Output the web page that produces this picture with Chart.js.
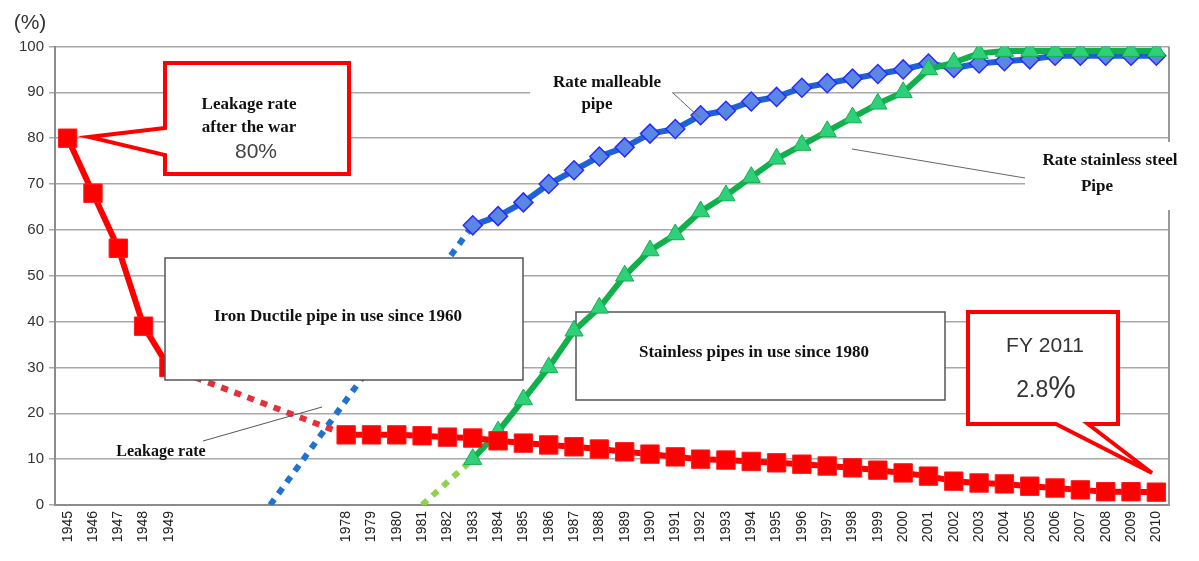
<!DOCTYPE html>
<html><head><meta charset="utf-8">
<script src="https://cdn.jsdelivr.net/npm/chart.js@4.4.1/dist/chart.umd.min.js"></script>
<style>html,body{margin:0;padding:0;background:#fff}#wrap{width:1199px;height:561px;position:relative}</style>
</head><body><div id="wrap"><canvas id="c" width="1199" height="561"></canvas></div>
<script>
// Category labels (blank slots represent the omitted 1950-1977 years)
const categories = ['1945','1946','1947','1948','1949','','','','','','',
  '1978','1979','1980','1981','1982','1983','1984','1985','1986','1987','1988','1989','1990',
  '1991','1992','1993','1994','1995','1996','1997','1998','1999','2000','2001','2002','2003',
  '2004','2005','2006','2007','2008','2009','2010'];

// Leakage rate (%)
const leakageRate = [80,68,56,39,30, null,null,null,null,null,null,
  15.3,15.3,15.3,15.1,14.8,14.6,14.0,13.5,13.1,12.7,12.2,11.6,11.1,10.5,10.0,9.8,
  9.5,9.2,8.9,8.5,8.1,7.6,7.0,6.3,5.2,4.8,4.6,4.1,3.7,3.3,2.9,2.9,2.8];

// Rate of malleable (ductile iron) pipe (%)
const malleableRate = [null,null,null,null,null,null,null,null, 0, null,null,null,null,null,null,null,
  61,63,66,70,73,76,78,81,82,85,86,88,89,91,92,93,94,95,96.3,95.3,96.3,96.8,97.2,98,98,98,98,98];

// Rate of stainless steel pipe (%)
const stainlessRate = [null,null,null,null,null,null,null,null,null,null,null,null,null,null, 0, null,
  10,16,23,30,38,43,50,55.5,59,64,67.5,71.5,75.5,78.5,81.5,84.5,87.5,90,95,96.5,98.5,99,99,99,99,99,99,99];

const yTicks = {min: 0, max: 100, step: 10};

const SERIF = '"Liberation Serif","Times New Roman",serif';
const SANS = '"Liberation Sans",Arial,sans-serif';

const isGap = ctx => ctx.p0.skip || ctx.p1.skip;

function poly(ctx, pts, stroke, lw) {
  ctx.beginPath();
  pts.forEach((p, i) => i ? ctx.lineTo(p[0], p[1]) : ctx.moveTo(p[0], p[1]));
  ctx.closePath();
  ctx.fillStyle = '#fff';
  ctx.fill();
  ctx.lineWidth = lw;
  ctx.strokeStyle = stroke;
  ctx.lineJoin = 'miter';
  ctx.stroke();
}
function txt(ctx, s, x, y, font, color) {
  ctx.font = font;
  ctx.fillStyle = color || '#111';
  ctx.textAlign = 'center';
  ctx.textBaseline = 'middle';
  ctx.fillText(s, x, y);
}
function line(ctx, x1, y1, x2, y2, color, lw) {
  ctx.beginPath(); ctx.moveTo(x1, y1); ctx.lineTo(x2, y2);
  ctx.strokeStyle = color; ctx.lineWidth = lw; ctx.stroke();
}

const annotations = {
  id: 'annotations',
  beforeDatasetsDraw(chart) {
    const ctx = chart.ctx, a = chart.chartArea;
    ctx.save();
    line(ctx, a.right, a.top, a.right, a.bottom, '#999', 2);
    // Stainless pipes box (behind the lines)
    poly(ctx, [[576,312],[945,312],[945,400],[576,400]], '#555', 1.5);
    txt(ctx, 'Stainless pipes in use since 1980', 754, 353, 'bold 17px ' + SERIF);
    ctx.restore();
  },
  afterDatasetsDraw(chart) {
    const ctx = chart.ctx;
    ctx.save();
    // (%) unit
    txt(ctx, '(%)', 30, 23, '21px ' + SANS, '#333');
    // Callout: leakage after the war
    poly(ctx, [[165,63],[349,63],[349,174],[165,174],[165,155],[89,137],[165,128]], '#ff0000', 4);
    txt(ctx, 'Leakage rate', 249, 105, 'bold 17px ' + SERIF);
    txt(ctx, 'after the war', 249, 128, 'bold 17px ' + SERIF);
    txt(ctx, '80%', 256, 152, '21px ' + SANS, '#444');
    // Iron ductile box
    poly(ctx, [[165,258],[523,258],[523,380],[165,380]], '#555', 1.5);
    txt(ctx, 'Iron Ductile pipe in use since 1960', 338, 317, 'bold 17px ' + SERIF);
    // Callout: FY2011
    poly(ctx, [[968,312],[1118,312],[1118,424],[1088,424],[1152,473],[1056,424],[968,424]], '#ff0000', 4);
    txt(ctx, 'FY 2011', 1045, 346, '21px ' + SANS, '#333');
    ctx.font = '23px ' + SANS;
    const w1 = ctx.measureText('2.8').width;
    ctx.font = '31px ' + SANS;
    const w2 = ctx.measureText('%').width;
    const x0 = 1046 - (w1 + w2) / 2;
    ctx.textAlign = 'left'; ctx.textBaseline = 'alphabetic'; ctx.fillStyle = '#333';
    ctx.font = '23px ' + SANS; ctx.fillText('2.8', x0, 397);
    ctx.font = '31px ' + SANS; ctx.fillText('%', x0 + w1, 398);
    // Rate malleable pipe label
    ctx.fillStyle = '#fff'; ctx.fillRect(530, 70, 142, 46);
    txt(ctx, 'Rate malleable', 607, 83, 'bold 17px ' + SERIF);
    txt(ctx, 'pipe', 597, 105, 'bold 17px ' + SERIF);
    line(ctx, 673, 93, 700, 118, '#666', 1);
    // Rate stainless steel pipe label
    ctx.fillStyle = '#fff'; ctx.fillRect(1025, 142, 174, 68);
    txt(ctx, 'Rate stainless steel', 1110, 161, 'bold 17px ' + SERIF);
    txt(ctx, 'Pipe', 1097, 187, 'bold 17px ' + SERIF);
    line(ctx, 852, 149, 1025, 178, '#666', 1);
    // Leakage rate label
    txt(ctx, 'Leakage rate', 161, 452, 'bold 16px ' + SERIF);
    line(ctx, 203, 441, 322, 407, '#555', 1);
    ctx.restore();
  }
};

new Chart(document.getElementById('c'), {
  type: 'line',
  data: {
    labels: categories,
    datasets: [
      {
        label: 'Leakage rate',
        data: leakageRate,
        spanGaps: true,
        borderColor: '#ff0000',
        borderWidth: 6,
        pointStyle: 'rect',
        pointRadius: ctx => ctx.raw === 0 ? 0 : 13,
        pointBackgroundColor: '#ff0000',
        pointBorderColor: '#ff1a1a',
        pointBorderWidth: 1,
        segment: {
          borderDash: ctx => isGap(ctx) ? [7, 7] : undefined,
          borderColor: ctx => isGap(ctx) ? '#e4303a' : undefined
        }
      },
      {
        label: 'Rate stainless steel pipe',
        data: stainlessRate,
        spanGaps: true,
        borderColor: '#12b04c',
        borderWidth: 6,
        pointStyle: 'triangle',
        pointRadius: ctx => ctx.raw === 0 ? 0 : 10.5,
        pointBackgroundColor: '#2fd07a',
        pointBorderColor: '#12b04c',
        pointBorderWidth: 1,
        segment: {
          borderDash: ctx => isGap(ctx) ? [7, 7] : undefined,
          borderColor: ctx => isGap(ctx) ? '#92d050' : undefined
        }
      },
      {
        label: 'Rate malleable pipe',
        data: malleableRate,
        spanGaps: true,
        borderColor: '#1e62d4',
        borderWidth: 6,
        pointStyle: 'rectRot',
        pointRadius: ctx => ctx.raw === 0 ? 0 : 9.5,
        pointBackgroundColor: '#5a86e4',
        pointBorderColor: '#2a2aff',
        pointBorderWidth: 1.5,
        segment: {
          borderDash: ctx => isGap(ctx) ? [7, 7] : undefined,
          borderColor: ctx => isGap(ctx) ? '#1f72d0' : undefined
        }
      }
    ]
  },
  options: {
    responsive: false,
    animation: false,
    devicePixelRatio: 1,
    layout: { padding: { left: 0, right: 30, top: 46.5, bottom: 0 } },
    plugins: { legend: { display: false }, tooltip: { enabled: false } },
    elements: { line: { tension: 0, borderCapStyle: 'butt', borderJoinStyle: 'round' } },
    scales: {
      x: {
        type: 'category',
        offset: true,
        grid: { display: false, drawTicks: false },
        border: { display: true, color: '#8c8c8c', width: 2 },
        ticks: {
          autoSkip: false, minRotation: 90, maxRotation: 90, padding: 6,
          color: '#222', font: { family: SANS, size: 14 }
        },
        afterFit: s => { s.height = 56; }
      },
      y: {
        min: yTicks.min, max: yTicks.max,
        grid: { color: '#a8a8a8', lineWidth: 1.5, tickLength: 6 },
        border: { display: true, color: '#8c8c8c', width: 2 },
        ticks: { stepSize: yTicks.step, padding: 5, color: '#333', font: { family: SANS, size: 15 } },
        afterFit: s => { s.width = 55; }
      }
    }
  },
  plugins: [annotations]
});
</script>
</body></html>
